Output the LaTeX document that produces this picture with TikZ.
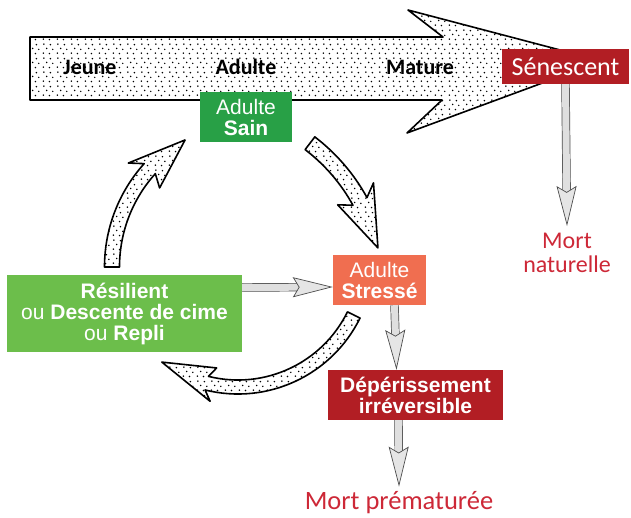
\documentclass[tikz,border=0pt]{standalone}
\usepackage{fontspec}
\setmainfont{Liberation Sans}
\newfontfamily\calib{Carlito}
\usetikzlibrary{arrows.meta,calc,patterns}

\definecolor{deadred}{RGB}{178,30,36}
\definecolor{saingreen}{RGB}{40,160,70}
\definecolor{resgreen}{RGB}{108,190,75}
\definecolor{stressorange}{RGB}{240,110,80}
\definecolor{mortred}{RGB}{205,40,55}

\pgfdeclarepatternformonly{sprinkle}{\pgfqpoint{0pt}{0pt}}{\pgfqpoint{14pt}{14pt}}{\pgfqpoint{14pt}{14pt}}{%
  \pgfpathcircle{\pgfqpoint{1.5pt}{2pt}}{0.9pt}
  \pgfpathcircle{\pgfqpoint{8pt}{1.5pt}}{0.9pt}
  \pgfpathcircle{\pgfqpoint{5pt}{7pt}}{0.9pt}
  \pgfpathcircle{\pgfqpoint{11.5pt}{6pt}}{0.9pt}
  \pgfpathcircle{\pgfqpoint{2pt}{11.5pt}}{0.9pt}
  \pgfpathcircle{\pgfqpoint{9pt}{11pt}}{0.9pt}
  \pgfusepath{fill}}

% curved fat arrow: centre, radius, half shaft, half head, tail, joint, barbs, tip
\newcommand{\fatarc}[8]{%
  \filldraw[fat] ($(#1)+(#5:{#2+#3})$) arc[start angle=#5, end angle=#6, radius={#2+#3}]
    -- ($(#1)+(#7:{#2+#4})$) -- ($(#1)+(#8:#2)$) -- ($(#1)+(#7:{#2-#4})$)
    -- ($(#1)+(#6:{#2-#3})$) arc[start angle=#6, end angle=#5, radius={#2-#3}] -- cycle;}

\begin{document}
\begin{tikzpicture}[x=1pt, y=1pt]

\tikzstyle{fat}=[draw=black, line width=1.6pt, line join=round, preaction={fill=white}, pattern=sprinkle]
\tikzstyle{box}=[rectangle, inner sep=0pt, text=white, align=center, font=\fontsize{21}{21}\selectfont]
\tikzstyle{stage}=[inner sep=0pt, font=\calib\bfseries\fontsize{22}{22}\selectfont]
\tikzstyle{mort}=[inner sep=0pt, text=mortred, align=center, font=\calib\fontsize{24}{24}\selectfont]
\tikzstyle{slim}=[draw=gray!60!black, line width=0.7pt, double=gray!25, double distance=7pt,
  -{Stealth[open, length=40pt, width=20pt, inset=6pt, fill=gray!20]}]

\useasboundingbox (0,0) rectangle (631,-517);

\filldraw[fat] (30,-37) -- (443,-37) -- (408,-10) -- (602,-61) -- (407,-133) -- (442,-100) -- (30,-100) -- cycle;

\node[stage] (jeune) at (90,-67) {Jeune};
\node[stage] (adulte) at (246,-67) {Adulte};
\node[stage] (mature) at (420,-67) {Mature};

\coordinate (c1) at (197,-291);
\coordinate (c2) at (259,-267);
\coordinate (c3) at (238,-258);
\fatarc{c1}{186}{8}{21}{52.6}{28.8}{31.5}{13.4}
\fatarc{c2}{147}{7.5}{20}{180}{138}{141.5}{120.2}
\fatarc{c3}{129}{7}{17}{-26.2}{-104}{-101}{-126.2}

\node[box, fill=deadred, minimum width=127, minimum height=35, font=\calib\fontsize{26}{26}\selectfont] (senescent) at (565.5,-66.5) {Sénescent};
\node[box, fill=saingreen, minimum width=92, minimum height=50] (sain) at (246,-117) {Adulte\\\textbf{Sain}};
\node[box, fill=stressorange, minimum width=93, minimum height=50] (stresse) at (379.5,-280) {Adulte\\\textbf{Stressé}};
\node[box, fill=resgreen, minimum width=235, minimum height=77] (resilient) at (124.5,-313.5) {\textbf{Résilient}\\ou \textbf{Descente de cime}\\ou \textbf{Repli}};
\node[box, fill=deadred, minimum width=175, minimum height=50] (deper) at (415.5,-395) {\textbf{Dépérissement}\\\textbf{irréversible}};

\node[mort] (mortnat) at (567,-253) {Mort\\naturelle};
\node[mort, font=\calib\fontsize{26.5}{26.5}\selectfont] (mortprem) at (399,-503) {Mort prématurée};

\draw[slim] (senescent.south) -- ([yshift=7]mortnat.north);
\draw[slim] ([xshift=15]stresse.south) -- ([xshift=-19]deper.north);
\draw[slim] ([xshift=-17]deper.south) -- ([yshift=5]mortprem.north);
\draw[slim] ([yshift=26]resilient.east) -- ([yshift=-7]stresse.west);

\end{tikzpicture}
\end{document}
